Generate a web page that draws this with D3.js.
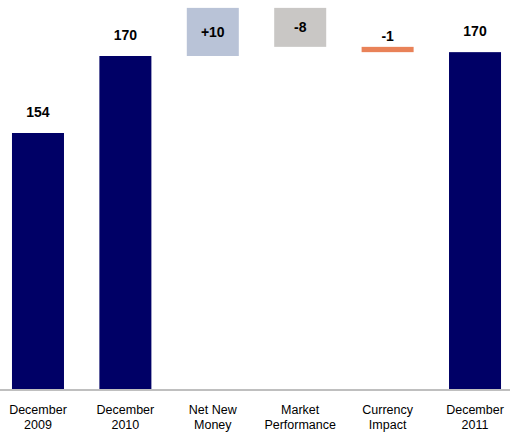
<!DOCTYPE html>
<html><head><meta charset="utf-8">
<script src="https://cdn.jsdelivr.net/npm/d3@7"></script>
<style>html,body{margin:0;padding:0;background:#fff;}svg{display:block;}</style>
</head><body>
<svg id="chart" width="510" height="432"></svg>
<script>
const categories = [["December","2009"],["December","2010"],["Net New","Money"],["Market","Performance"],["Currency","Impact"],["December","2011"]];
const kinds = ["total","total","delta","delta","delta","total"];
const values = [154, 170, 10, -8.1, -1.1, 170.8];
const valueLabels = ["154","170","+10","-8","-1","170"];
const colors = ["#000066","#000066","#b9c3d7","#c9c7c5","#e98258","#000066"];

const svg = d3.select("#chart");
const baseY = 389;
const x = d3.scaleBand().domain(d3.range(categories.length)).range([0,513]).paddingInner(0.405).paddingOuter(0.137);
const y = d3.scaleLinear().domain([100.8, 170]).range([baseY, 56]);

let run = 0;
const bars = values.map((v,i)=>{
  let lo, hi;
  if (kinds[i]==="total"){ lo = y.domain()[0]; hi = v; run = v; }
  else { const s = run; run = run + v; lo = Math.min(s, run); hi = Math.max(s, run); }
  return {i, lo, hi, kind: kinds[i]};
});

svg.selectAll("rect.bar").data(bars).join("rect")
  .attr("class","bar")
  .attr("x", d=>x(d.i)).attr("width", x.bandwidth())
  .attr("y", d=>y(d.hi)).attr("height", d=>y(d.lo)-y(d.hi))
  .attr("fill", d=>colors[d.i]);

// axis line
svg.append("line").attr("x1",0).attr("x2",510).attr("y1",baseY+1).attr("y2",baseY+1)
  .attr("stroke","#808080").attr("stroke-width",1.2);

// value labels
svg.selectAll("text.val").data(bars).join("text")
  .attr("class","val")
  .attr("x", d=>x(d.i)+x.bandwidth()/2)
  .attr("y", d=>{
    const h = y(d.lo)-y(d.hi);
    if (d.kind==="total") return y(d.hi)-16;
    if (h>20) return (y(d.hi)+y(d.lo))/2 + 5;
    return y(d.hi)-6;
  })
  .attr("text-anchor","middle")
  .attr("font-family","Liberation Sans, Arial, sans-serif")
  .attr("font-weight","bold").attr("font-size","14px").attr("fill","#000")
  .text(d=>valueLabels[d.i]);

// category labels
const cat = svg.selectAll("text.cat").data(categories).join("text")
  .attr("class","cat")
  .attr("x",(d,i)=>x(i)+x.bandwidth()/2)
  .attr("y",413.5)
  .attr("text-anchor","middle")
  .attr("font-family","Liberation Sans, Arial, sans-serif")
  .attr("font-size","12.5px").attr("fill","#000");
cat.selectAll("tspan").data(d=>d).join("tspan")
  .attr("x", function(){ return d3.select(this.parentNode).attr("x"); })
  .attr("dy",(d,j)=> j===0 ? 0 : 15.5)
  .text(d=>d);
</script>
</body></html>
